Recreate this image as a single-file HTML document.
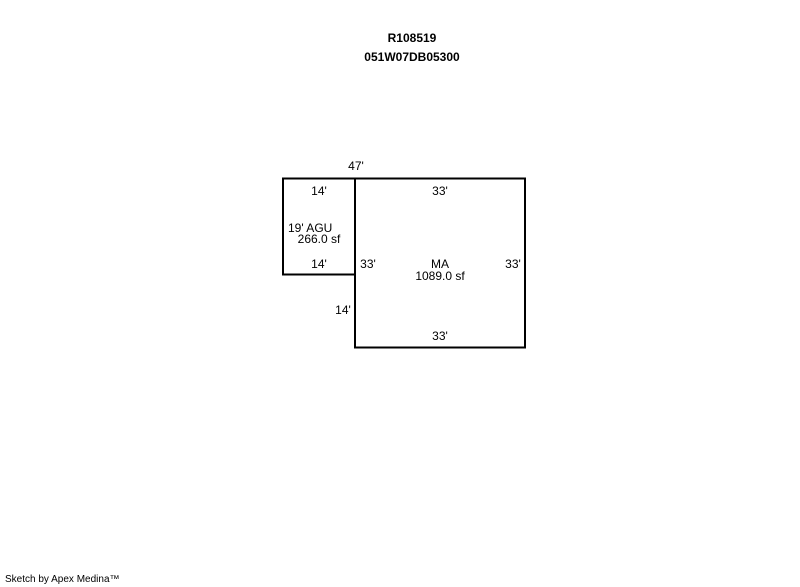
<!DOCTYPE html>
<html><head><style>
html,body{margin:0;padding:0;background:#fff;}
svg{display:block;}
text{font-family:"Liberation Sans",sans-serif;font-size:12px;fill:#000;}
</style></head><body>
<svg width="800" height="587" xmlns="http://www.w3.org/2000/svg">
<text x="412" y="42" text-anchor="middle" font-weight="bold">R108519</text>
<text x="412" y="61" text-anchor="middle" font-weight="bold">051W07DB05300</text>
<rect x="283" y="178.5" width="72" height="96" fill="none" stroke="#000" stroke-width="2"/>
<rect x="355" y="178.5" width="170" height="169" fill="none" stroke="#000" stroke-width="2"/>
<text x="356" y="170" text-anchor="middle">47'</text>
<text x="319" y="195" text-anchor="middle">14'</text>
<text x="440" y="195" text-anchor="middle">33'</text>
<text x="288" y="232">19' AGU</text>
<text x="319" y="243" text-anchor="middle">266.0 sf</text>
<text x="319" y="268" text-anchor="middle">14'</text>
<text x="368" y="268" text-anchor="middle">33'</text>
<text x="440" y="268" text-anchor="middle">MA</text>
<text x="440" y="280" text-anchor="middle">1089.0 sf</text>
<text x="513" y="268" text-anchor="middle">33'</text>
<text x="343" y="314" text-anchor="middle">14'</text>
<text x="440" y="340" text-anchor="middle">33'</text>
<text x="5" y="582" style="font-size:10px">Sketch by Apex Medina™</text>
</svg>
</body></html>
